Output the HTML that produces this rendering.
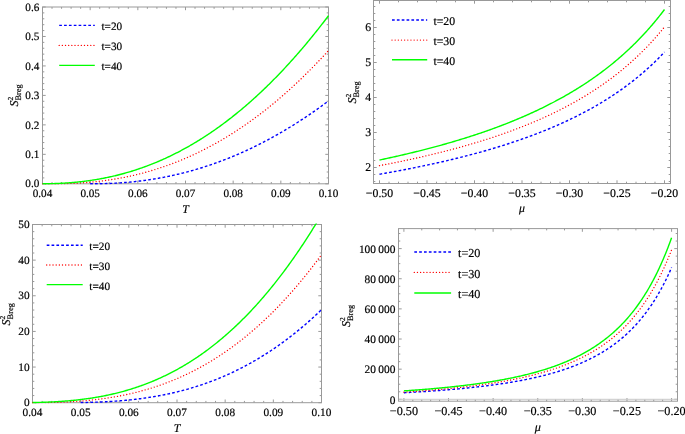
<!DOCTYPE html>
<html><head><meta charset="utf-8"><title>S2 Breg plots</title>
<style>html,body{margin:0;padding:0;background:#fff;width:685px;height:434px;overflow:hidden}svg{display:block;will-change:transform}text{stroke:#000;stroke-width:0.18px}</style>
</head><body>
<svg width="685" height="434" viewBox="0 0 685 434" font-family="'Liberation Serif', serif" fill="#000" text-rendering="geometricPrecision"><defs><clipPath id="c1"><rect x="41.5" y="6" width="288" height="178.8"/></clipPath><clipPath id="c2"><rect x="372.5" y="-0.5" width="299" height="185"/></clipPath><clipPath id="c3"><rect x="31.5" y="223.5" width="291" height="180.2"/></clipPath><clipPath id="c4"><rect x="397.5" y="227.6" width="281" height="174.6"/></clipPath></defs><rect width="685" height="434" fill="#fff"/><path d="M42.5 183.8v-3.2M42.5 7v3.2M52.03 183.8v-1.8M52.03 7v1.8M61.57 183.8v-1.8M61.57 7v1.8M71.1 183.8v-1.8M71.1 7v1.8M80.63 183.8v-1.8M80.63 7v1.8M90.17 183.8v-3.2M90.17 7v3.2M99.7 183.8v-1.8M99.7 7v1.8M109.23 183.8v-1.8M109.23 7v1.8M118.77 183.8v-1.8M118.77 7v1.8M128.3 183.8v-1.8M128.3 7v1.8M137.83 183.8v-3.2M137.83 7v3.2M147.37 183.8v-1.8M147.37 7v1.8M156.9 183.8v-1.8M156.9 7v1.8M166.43 183.8v-1.8M166.43 7v1.8M175.97 183.8v-1.8M175.97 7v1.8M185.5 183.8v-3.2M185.5 7v3.2M195.03 183.8v-1.8M195.03 7v1.8M204.57 183.8v-1.8M204.57 7v1.8M214.1 183.8v-1.8M214.1 7v1.8M223.63 183.8v-1.8M223.63 7v1.8M233.17 183.8v-3.2M233.17 7v3.2M242.7 183.8v-1.8M242.7 7v1.8M252.23 183.8v-1.8M252.23 7v1.8M261.77 183.8v-1.8M261.77 7v1.8M271.3 183.8v-1.8M271.3 7v1.8M280.83 183.8v-3.2M280.83 7v3.2M290.37 183.8v-1.8M290.37 7v1.8M299.9 183.8v-1.8M299.9 7v1.8M309.43 183.8v-1.8M309.43 7v1.8M318.97 183.8v-1.8M318.97 7v1.8M328.5 183.8v-3.2M328.5 7v3.2M42.5 183.8h3.2M328.5 183.8h-3.2M42.5 177.91h1.8M328.5 177.91h-1.8M42.5 172.01h1.8M328.5 172.01h-1.8M42.5 166.12h1.8M328.5 166.12h-1.8M42.5 160.23h1.8M328.5 160.23h-1.8M42.5 154.33h3.2M328.5 154.33h-3.2M42.5 148.44h1.8M328.5 148.44h-1.8M42.5 142.55h1.8M328.5 142.55h-1.8M42.5 136.65h1.8M328.5 136.65h-1.8M42.5 130.76h1.8M328.5 130.76h-1.8M42.5 124.87h3.2M328.5 124.87h-3.2M42.5 118.97h1.8M328.5 118.97h-1.8M42.5 113.08h1.8M328.5 113.08h-1.8M42.5 107.19h1.8M328.5 107.19h-1.8M42.5 101.29h1.8M328.5 101.29h-1.8M42.5 95.4h3.2M328.5 95.4h-3.2M42.5 89.51h1.8M328.5 89.51h-1.8M42.5 83.61h1.8M328.5 83.61h-1.8M42.5 77.72h1.8M328.5 77.72h-1.8M42.5 71.83h1.8M328.5 71.83h-1.8M42.5 65.93h3.2M328.5 65.93h-3.2M42.5 60.04h1.8M328.5 60.04h-1.8M42.5 54.15h1.8M328.5 54.15h-1.8M42.5 48.25h1.8M328.5 48.25h-1.8M42.5 42.36h1.8M328.5 42.36h-1.8M42.5 36.47h3.2M328.5 36.47h-3.2M42.5 30.57h1.8M328.5 30.57h-1.8M42.5 24.68h1.8M328.5 24.68h-1.8M42.5 18.79h1.8M328.5 18.79h-1.8M42.5 12.89h1.8M328.5 12.89h-1.8M42.5 7h3.2M328.5 7h-3.2" stroke="#999999" stroke-width="1" fill="none"/><rect x="42.5" y="7" width="286" height="176.8" fill="none" stroke="#999999" stroke-width="1.0"/><polyline points="90.17,183.80 90.96,183.80 91.76,183.80 92.56,183.80 93.36,183.79 94.15,183.79 94.95,183.79 95.75,183.78 96.54,183.77 97.34,183.76 98.14,183.75 98.93,183.74 99.73,183.73 100.53,183.71 101.33,183.70 102.12,183.68 102.92,183.66 103.72,183.64 104.51,183.62 105.31,183.60 106.11,183.57 106.91,183.55 107.70,183.52 108.50,183.49 109.30,183.46 110.09,183.43 110.89,183.39 111.69,183.36 112.49,183.32 113.28,183.28 114.08,183.24 114.88,183.20 115.67,183.15 116.47,183.11 117.27,183.06 118.07,183.01 118.86,182.96 119.66,182.91 120.46,182.86 121.25,182.80 122.05,182.74 122.85,182.69 123.64,182.63 124.44,182.56 125.24,182.50 126.04,182.43 126.83,182.37 127.63,182.30 128.43,182.23 129.22,182.15 130.02,182.08 130.82,182.00 131.62,181.93 132.41,181.85 133.21,181.77 134.01,181.68 134.80,181.60 135.60,181.51 136.40,181.42 137.20,181.33 137.99,181.24 138.79,181.15 139.59,181.05 140.38,180.95 141.18,180.85 141.98,180.75 142.78,180.65 143.57,180.55 144.37,180.44 145.17,180.33 145.96,180.22 146.76,180.11 147.56,179.99 148.36,179.88 149.15,179.76 149.95,179.64 150.75,179.52 151.54,179.40 152.34,179.27 153.14,179.14 153.93,179.01 154.73,178.88 155.53,178.75 156.33,178.62 157.12,178.48 157.92,178.34 158.72,178.20 159.51,178.06 160.31,177.92 161.11,177.77 161.91,177.62 162.70,177.47 163.50,177.32 164.30,177.17 165.09,177.01 165.89,176.85 166.69,176.69 167.49,176.53 168.28,176.37 169.08,176.20 169.88,176.03 170.67,175.87 171.47,175.69 172.27,175.52 173.07,175.35 173.86,175.17 174.66,174.99 175.46,174.81 176.25,174.63 177.05,174.44 177.85,174.25 178.64,174.06 179.44,173.87 180.24,173.68 181.04,173.49 181.83,173.29 182.63,173.09 183.43,172.89 184.22,172.69 185.02,172.48 185.82,172.27 186.62,172.06 187.41,171.85 188.21,171.64 189.01,171.43 189.80,171.21 190.60,170.99 191.40,170.77 192.20,170.55 192.99,170.32 193.79,170.09 194.59,169.86 195.38,169.63 196.18,169.40 196.98,169.16 197.78,168.93 198.57,168.69 199.37,168.45 200.17,168.20 200.96,167.96 201.76,167.71 202.56,167.46 203.36,167.21 204.15,166.95 204.95,166.70 205.75,166.44 206.54,166.18 207.34,165.92 208.14,165.65 208.93,165.39 209.73,165.12 210.53,164.85 211.33,164.58 212.12,164.30 212.92,164.03 213.72,163.75 214.51,163.47 215.31,163.18 216.11,162.90 216.91,162.61 217.70,162.32 218.50,162.03 219.30,161.74 220.09,161.44 220.89,161.15 221.69,160.85 222.49,160.54 223.28,160.24 224.08,159.93 224.88,159.63 225.67,159.32 226.47,159.00 227.27,158.69 228.07,158.37 228.86,158.05 229.66,157.73 230.46,157.41 231.25,157.08 232.05,156.76 232.85,156.43 233.64,156.10 234.44,155.76 235.24,155.43 236.04,155.09 236.83,154.75 237.63,154.41 238.43,154.06 239.22,153.72 240.02,153.37 240.82,153.02 241.62,152.66 242.41,152.31 243.21,151.95 244.01,151.59 244.80,151.23 245.60,150.87 246.40,150.50 247.20,150.13 247.99,149.76 248.79,149.39 249.59,149.02 250.38,148.64 251.18,148.26 251.98,147.88 252.78,147.50 253.57,147.11 254.37,146.72 255.17,146.33 255.96,145.94 256.76,145.55 257.56,145.15 258.36,144.75 259.15,144.35 259.95,143.95 260.75,143.54 261.54,143.14 262.34,142.73 263.14,142.31 263.93,141.90 264.73,141.48 265.53,141.07 266.33,140.65 267.12,140.22 267.92,139.80 268.72,139.37 269.51,138.94 270.31,138.51 271.11,138.08 271.91,137.64 272.70,137.20 273.50,136.76 274.30,136.32 275.09,135.87 275.89,135.43 276.69,134.98 277.49,134.53 278.28,134.07 279.08,133.62 279.88,133.16 280.67,132.70 281.47,132.24 282.27,131.77 283.07,131.30 283.86,130.83 284.66,130.36 285.46,129.89 286.25,129.41 287.05,128.93 287.85,128.45 288.64,127.97 289.44,127.49 290.24,127.00 291.04,126.51 291.83,126.02 292.63,125.52 293.43,125.03 294.22,124.53 295.02,124.03 295.82,123.52 296.62,123.02 297.41,122.51 298.21,122.00 299.01,121.49 299.80,120.98 300.60,120.46 301.40,119.94 302.20,119.42 302.99,118.90 303.79,118.37 304.59,117.84 305.38,117.31 306.18,116.78 306.98,116.24 307.78,115.71 308.57,115.17 309.37,114.63 310.17,114.08 310.96,113.54 311.76,112.99 312.56,112.44 313.36,111.88 314.15,111.33 314.95,110.77 315.75,110.21 316.54,109.65 317.34,109.08 318.14,108.52 318.93,107.95 319.73,107.38 320.53,106.80 321.33,106.23 322.12,105.65 322.92,105.07 323.72,104.49 324.51,103.90 325.31,103.31 326.11,102.72 326.91,102.13 327.70,101.54 328.50,100.94" fill="none" stroke="#0000ff" stroke-width="1.4" stroke-dasharray="2.7 2.15" clip-path="url(#c1)"/><polyline points="42.50,183.80 43.46,183.80 44.41,183.80 45.37,183.80 46.33,183.80 47.28,183.80 48.24,183.80 49.20,183.80 50.15,183.80 51.11,183.80 52.07,183.79 53.02,183.79 53.98,183.79 54.93,183.78 55.89,183.77 56.85,183.76 57.80,183.75 58.76,183.74 59.72,183.72 60.67,183.71 61.63,183.69 62.59,183.67 63.54,183.65 64.50,183.63 65.46,183.60 66.41,183.57 67.37,183.54 68.33,183.51 69.28,183.48 70.24,183.44 71.20,183.41 72.15,183.37 73.11,183.32 74.07,183.28 75.02,183.23 75.98,183.18 76.93,183.13 77.89,183.08 78.85,183.02 79.80,182.97 80.76,182.91 81.72,182.84 82.67,182.78 83.63,182.71 84.59,182.64 85.54,182.57 86.50,182.49 87.46,182.42 88.41,182.34 89.37,182.25 90.33,182.17 91.28,182.08 92.24,181.99 93.20,181.90 94.15,181.80 95.11,181.70 96.07,181.60 97.02,181.50 97.98,181.39 98.93,181.28 99.89,181.17 100.85,181.05 101.80,180.94 102.76,180.81 103.72,180.69 104.67,180.56 105.63,180.44 106.59,180.30 107.54,180.17 108.50,180.03 109.46,179.89 110.41,179.75 111.37,179.60 112.33,179.45 113.28,179.30 114.24,179.14 115.20,178.98 116.15,178.82 117.11,178.66 118.07,178.49 119.02,178.32 119.98,178.15 120.93,177.97 121.89,177.79 122.85,177.61 123.80,177.42 124.76,177.23 125.72,177.04 126.67,176.84 127.63,176.64 128.59,176.44 129.54,176.24 130.50,176.03 131.46,175.82 132.41,175.60 133.37,175.38 134.33,175.16 135.28,174.94 136.24,174.71 137.20,174.48 138.15,174.24 139.11,174.01 140.07,173.77 141.02,173.52 141.98,173.27 142.93,173.02 143.89,172.77 144.85,172.51 145.80,172.25 146.76,171.98 147.72,171.72 148.67,171.45 149.63,171.17 150.59,170.89 151.54,170.61 152.50,170.33 153.46,170.04 154.41,169.74 155.37,169.45 156.33,169.15 157.28,168.85 158.24,168.54 159.20,168.23 160.15,167.92 161.11,167.60 162.07,167.28 163.02,166.96 163.98,166.63 164.93,166.30 165.89,165.96 166.85,165.63 167.80,165.28 168.76,164.94 169.72,164.59 170.67,164.24 171.63,163.88 172.59,163.52 173.54,163.16 174.50,162.79 175.46,162.42 176.41,162.04 177.37,161.67 178.33,161.28 179.28,160.90 180.24,160.51 181.20,160.12 182.15,159.72 183.11,159.32 184.07,158.91 185.02,158.51 185.98,158.09 186.93,157.68 187.89,157.26 188.85,156.83 189.80,156.41 190.76,155.98 191.72,155.54 192.67,155.10 193.63,154.66 194.59,154.21 195.54,153.76 196.50,153.31 197.46,152.85 198.41,152.39 199.37,151.92 200.33,151.45 201.28,150.98 202.24,150.50 203.20,150.02 204.15,149.54 205.11,149.05 206.07,148.56 207.02,148.06 207.98,147.56 208.93,147.05 209.89,146.54 210.85,146.03 211.80,145.51 212.76,144.99 213.72,144.47 214.67,143.94 215.63,143.41 216.59,142.87 217.54,142.33 218.50,141.78 219.46,141.23 220.41,140.68 221.37,140.12 222.33,139.56 223.28,139.00 224.24,138.43 225.20,137.85 226.15,137.28 227.11,136.70 228.07,136.11 229.02,135.52 229.98,134.93 230.93,134.33 231.89,133.73 232.85,133.12 233.80,132.51 234.76,131.89 235.72,131.28 236.67,130.65 237.63,130.03 238.59,129.39 239.54,128.76 240.50,128.12 241.46,127.48 242.41,126.83 243.37,126.18 244.33,125.52 245.28,124.86 246.24,124.19 247.20,123.52 248.15,122.85 249.11,122.17 250.07,121.49 251.02,120.80 251.98,120.11 252.93,119.42 253.89,118.72 254.85,118.02 255.80,117.31 256.76,116.60 257.72,115.88 258.67,115.16 259.63,114.44 260.59,113.71 261.54,112.97 262.50,112.24 263.46,111.49 264.41,110.75 265.37,110.00 266.33,109.24 267.28,108.48 268.24,107.72 269.20,106.95 270.15,106.18 271.11,105.40 272.07,104.62 273.02,103.83 273.98,103.04 274.93,102.25 275.89,101.45 276.85,100.64 277.80,99.84 278.76,99.02 279.72,98.21 280.67,97.39 281.63,96.56 282.59,95.73 283.54,94.90 284.50,94.06 285.46,93.21 286.41,92.37 287.37,91.51 288.33,90.66 289.28,89.79 290.24,88.93 291.20,88.06 292.15,87.18 293.11,86.30 294.07,85.42 295.02,84.53 295.98,83.64 296.93,82.74 297.89,81.84 298.85,80.93 299.80,80.02 300.76,79.10 301.72,78.18 302.67,77.26 303.63,76.33 304.59,75.39 305.54,74.45 306.50,73.51 307.46,72.56 308.41,71.61 309.37,70.65 310.33,69.69 311.28,68.72 312.24,67.75 313.20,66.78 314.15,65.80 315.11,64.81 316.07,63.82 317.02,62.83 317.98,61.83 318.93,60.82 319.89,59.82 320.85,58.80 321.80,57.78 322.76,56.76 323.72,55.74 324.67,54.70 325.63,53.67 326.59,52.63 327.54,51.58 328.50,50.53" fill="none" stroke="#ff0000" stroke-width="1.35" stroke-linecap="round" stroke-dasharray="0.01 3.15" clip-path="url(#c1)"/><polyline points="42.50,183.79 43.46,183.78 44.41,183.77 45.37,183.76 46.33,183.75 47.28,183.73 48.24,183.72 49.20,183.70 50.15,183.68 51.11,183.66 52.07,183.63 53.02,183.61 53.98,183.58 54.93,183.54 55.89,183.51 56.85,183.47 57.80,183.44 58.76,183.39 59.72,183.35 60.67,183.30 61.63,183.26 62.59,183.20 63.54,183.15 64.50,183.09 65.46,183.03 66.41,182.97 67.37,182.91 68.33,182.84 69.28,182.77 70.24,182.70 71.20,182.62 72.15,182.54 73.11,182.46 74.07,182.37 75.02,182.29 75.98,182.20 76.93,182.10 77.89,182.01 78.85,181.91 79.80,181.80 80.76,181.70 81.72,181.59 82.67,181.48 83.63,181.36 84.59,181.24 85.54,181.12 86.50,181.00 87.46,180.87 88.41,180.74 89.37,180.60 90.33,180.47 91.28,180.33 92.24,180.18 93.20,180.03 94.15,179.88 95.11,179.73 96.07,179.57 97.02,179.41 97.98,179.25 98.93,179.08 99.89,178.91 100.85,178.73 101.80,178.56 102.76,178.38 103.72,178.19 104.67,178.00 105.63,177.81 106.59,177.61 107.54,177.42 108.50,177.21 109.46,177.01 110.41,176.80 111.37,176.58 112.33,176.37 113.28,176.15 114.24,175.92 115.20,175.70 116.15,175.46 117.11,175.23 118.07,174.99 119.02,174.75 119.98,174.50 120.93,174.25 121.89,174.00 122.85,173.74 123.80,173.48 124.76,173.22 125.72,172.95 126.67,172.67 127.63,172.40 128.59,172.12 129.54,171.83 130.50,171.55 131.46,171.25 132.41,170.96 133.37,170.66 134.33,170.36 135.28,170.05 136.24,169.74 137.20,169.42 138.15,169.10 139.11,168.78 140.07,168.45 141.02,168.12 141.98,167.79 142.93,167.45 143.89,167.11 144.85,166.76 145.80,166.41 146.76,166.05 147.72,165.69 148.67,165.33 149.63,164.96 150.59,164.59 151.54,164.22 152.50,163.84 153.46,163.46 154.41,163.07 155.37,162.68 156.33,162.28 157.28,161.88 158.24,161.48 159.20,161.07 160.15,160.65 161.11,160.24 162.07,159.82 163.02,159.39 163.98,158.96 164.93,158.53 165.89,158.09 166.85,157.65 167.80,157.20 168.76,156.75 169.72,156.30 170.67,155.84 171.63,155.38 172.59,154.91 173.54,154.44 174.50,153.96 175.46,153.48 176.41,152.99 177.37,152.51 178.33,152.01 179.28,151.51 180.24,151.01 181.20,150.50 182.15,149.99 183.11,149.48 184.07,148.96 185.02,148.43 185.98,147.91 186.93,147.37 187.89,146.83 188.85,146.29 189.80,145.75 190.76,145.20 191.72,144.64 192.67,144.08 193.63,143.52 194.59,142.95 195.54,142.37 196.50,141.80 197.46,141.21 198.41,140.63 199.37,140.04 200.33,139.44 201.28,138.84 202.24,138.23 203.20,137.62 204.15,137.01 205.11,136.39 206.07,135.77 207.02,135.14 207.98,134.51 208.93,133.87 209.89,133.23 210.85,132.58 211.80,131.93 212.76,131.28 213.72,130.62 214.67,129.95 215.63,129.28 216.59,128.61 217.54,127.93 218.50,127.24 219.46,126.56 220.41,125.86 221.37,125.17 222.33,124.46 223.28,123.76 224.24,123.04 225.20,122.33 226.15,121.61 227.11,120.88 228.07,120.15 229.02,119.41 229.98,118.67 230.93,117.93 231.89,117.18 232.85,116.42 233.80,115.67 234.76,114.90 235.72,114.13 236.67,113.36 237.63,112.58 238.59,111.80 239.54,111.01 240.50,110.21 241.46,109.42 242.41,108.61 243.37,107.81 244.33,106.99 245.28,106.18 246.24,105.35 247.20,104.53 248.15,103.69 249.11,102.86 250.07,102.02 251.02,101.17 251.98,100.32 252.93,99.46 253.89,98.60 254.85,97.73 255.80,96.86 256.76,95.98 257.72,95.10 258.67,94.22 259.63,93.32 260.59,92.43 261.54,91.53 262.50,90.62 263.46,89.71 264.41,88.79 265.37,87.87 266.33,86.95 267.28,86.01 268.24,85.08 269.20,84.14 270.15,83.19 271.11,82.24 272.07,81.28 273.02,80.32 273.98,79.35 274.93,78.38 275.89,77.41 276.85,76.42 277.80,75.44 278.76,74.44 279.72,73.45 280.67,72.45 281.63,71.44 282.59,70.43 283.54,69.41 284.50,68.39 285.46,67.36 286.41,66.32 287.37,65.29 288.33,64.24 289.28,63.19 290.24,62.14 291.20,61.08 292.15,60.02 293.11,58.95 294.07,57.88 295.02,56.80 295.98,55.71 296.93,54.62 297.89,53.53 298.85,52.43 299.80,51.32 300.76,50.21 301.72,49.09 302.67,47.97 303.63,46.85 304.59,45.71 305.54,44.58 306.50,43.44 307.46,42.29 308.41,41.14 309.37,39.98 310.33,38.81 311.28,37.65 312.24,36.47 313.20,35.29 314.15,34.11 315.11,32.92 316.07,31.72 317.02,30.52 317.98,29.32 318.93,28.11 319.89,26.89 320.85,25.67 321.80,24.44 322.76,23.21 323.72,21.97 324.67,20.73 325.63,19.48 326.59,18.23 327.54,16.97 328.50,15.70" fill="none" stroke="#00ff00" stroke-width="1.4" clip-path="url(#c1)"/><text x="42.5" y="196.8" font-size="11.2" text-anchor="middle">0.04</text><text x="90.17" y="196.8" font-size="11.2" text-anchor="middle">0.05</text><text x="137.83" y="196.8" font-size="11.2" text-anchor="middle">0.06</text><text x="185.5" y="196.8" font-size="11.2" text-anchor="middle">0.07</text><text x="233.17" y="196.8" font-size="11.2" text-anchor="middle">0.08</text><text x="280.83" y="196.8" font-size="11.2" text-anchor="middle">0.09</text><text x="328.5" y="196.8" font-size="11.2" text-anchor="middle">0.10</text><text x="39.3" y="187.47" font-size="11.2" text-anchor="end">0.0</text><text x="39.3" y="158" font-size="11.2" text-anchor="end">0.1</text><text x="39.3" y="128.53" font-size="11.2" text-anchor="end">0.2</text><text x="39.3" y="99.07" font-size="11.2" text-anchor="end">0.3</text><text x="39.3" y="69.6" font-size="11.2" text-anchor="end">0.4</text><text x="39.3" y="40.13" font-size="11.2" text-anchor="end">0.5</text><text x="39.3" y="10.67" font-size="11.2" text-anchor="end">0.6</text><text x="185.6" y="212.6" font-size="11.8" text-anchor="middle" font-style="italic">T</text><g transform="translate(17.6,106.5) rotate(-90)"><text x="0" y="0" font-size="12"><tspan font-style="italic">S</tspan><tspan font-size="7.6" dy="-5">2</tspan><tspan font-size="8.4" dx="-3.8" dy="8.2">Breg</tspan></text></g><line x1="59.2" y1="25.4" x2="94.8" y2="25.4" stroke="#0000ff" stroke-width="1.4" stroke-dasharray="2.7 2.15"/><text x="101.5" y="30.27" font-size="11.2" text-anchor="start">t=20</text><line x1="59.2" y1="45.4" x2="94.8" y2="45.4" stroke="#ff0000" stroke-width="1.35" stroke-linecap="round" stroke-dasharray="0.01 3.15"/><text x="101.5" y="50.27" font-size="11.2" text-anchor="start">t=30</text><line x1="59.2" y1="65.4" x2="94.8" y2="65.4" stroke="#00ff00" stroke-width="1.4"/><text x="101.5" y="70.27" font-size="11.2" text-anchor="start">t=40</text><path d="M379.5 183.5v-3.2M389 183.5v-1.8M398.5 183.5v-1.8M408 183.5v-1.8M417.5 183.5v-1.8M427 183.5v-3.2M436.5 183.5v-1.8M446 183.5v-1.8M455.5 183.5v-1.8M465 183.5v-1.8M474.5 183.5v-3.2M484 183.5v-1.8M493.5 183.5v-1.8M503 183.5v-1.8M512.5 183.5v-1.8M522 183.5v-3.2M531.5 183.5v-1.8M541 183.5v-1.8M550.5 183.5v-1.8M560 183.5v-1.8M569.5 183.5v-3.2M579 183.5v-1.8M588.5 183.5v-1.8M598 183.5v-1.8M607.5 183.5v-1.8M617 183.5v-3.2M626.5 183.5v-1.8M636 183.5v-1.8M645.5 183.5v-1.8M655 183.5v-1.8M664.5 183.5v-3.2M379.5 0.5v3.2M398.5 0.5v1.8M417.5 0.5v1.8M436.5 0.5v1.8M455.5 0.5v1.8M474.5 0.5v3.2M493.5 0.5v1.8M512.5 0.5v1.8M531.5 0.5v1.8M550.5 0.5v1.8M569.5 0.5v3.2M588.5 0.5v1.8M607.5 0.5v1.8M626.5 0.5v1.8M645.5 0.5v1.8M664.5 0.5v3.2M373.5 181.5h1.8M670.5 181.5h-1.8M373.5 174.5h1.8M670.5 174.5h-1.8M373.5 167.5h3.2M670.5 167.5h-3.2M373.5 160.5h1.8M670.5 160.5h-1.8M373.5 153.5h1.8M670.5 153.5h-1.8M373.5 146.5h1.8M670.5 146.5h-1.8M373.5 139.5h1.8M670.5 139.5h-1.8M373.5 132.5h3.2M670.5 132.5h-3.2M373.5 125.5h1.8M670.5 125.5h-1.8M373.5 118.5h1.8M670.5 118.5h-1.8M373.5 111.5h1.8M670.5 111.5h-1.8M373.5 104.5h1.8M670.5 104.5h-1.8M373.5 97.5h3.2M670.5 97.5h-3.2M373.5 90.5h1.8M670.5 90.5h-1.8M373.5 83.5h1.8M670.5 83.5h-1.8M373.5 76.5h1.8M670.5 76.5h-1.8M373.5 69.5h1.8M670.5 69.5h-1.8M373.5 62.5h3.2M670.5 62.5h-3.2M373.5 55.5h1.8M670.5 55.5h-1.8M373.5 48.5h1.8M670.5 48.5h-1.8M373.5 41.5h1.8M670.5 41.5h-1.8M373.5 34.5h1.8M670.5 34.5h-1.8M373.5 27.5h3.2M670.5 27.5h-3.2M373.5 20.5h1.8M670.5 20.5h-1.8M373.5 13.5h1.8M670.5 13.5h-1.8M373.5 6.5h1.8M670.5 6.5h-1.8" stroke="#999999" stroke-width="1" fill="none"/><rect x="373.5" y="0.5" width="297" height="183" fill="none" stroke="#999999" stroke-width="1.0"/><polyline points="379.50,174.23 380.45,174.07 381.41,173.90 382.36,173.73 383.31,173.57 384.27,173.40 385.22,173.23 386.17,173.06 387.13,172.89 388.08,172.72 389.03,172.55 389.98,172.38 390.94,172.20 391.89,172.03 392.84,171.86 393.80,171.68 394.75,171.51 395.70,171.33 396.66,171.15 397.61,170.97 398.56,170.80 399.52,170.62 400.47,170.44 401.42,170.26 402.38,170.07 403.33,169.89 404.28,169.71 405.24,169.52 406.19,169.34 407.14,169.15 408.10,168.97 409.05,168.78 410.00,168.59 410.95,168.41 411.91,168.22 412.86,168.03 413.81,167.83 414.77,167.64 415.72,167.45 416.67,167.26 417.63,167.06 418.58,166.87 419.53,166.67 420.49,166.47 421.44,166.28 422.39,166.08 423.35,165.88 424.30,165.68 425.25,165.48 426.21,165.28 427.16,165.07 428.11,164.87 429.07,164.66 430.02,164.46 430.97,164.25 431.92,164.04 432.88,163.83 433.83,163.63 434.78,163.42 435.74,163.20 436.69,162.99 437.64,162.78 438.60,162.56 439.55,162.35 440.50,162.13 441.46,161.92 442.41,161.70 443.36,161.48 444.32,161.26 445.27,161.04 446.22,160.81 447.18,160.59 448.13,160.37 449.08,160.14 450.04,159.92 450.99,159.69 451.94,159.46 452.89,159.23 453.85,159.00 454.80,158.77 455.75,158.54 456.71,158.30 457.66,158.07 458.61,157.83 459.57,157.59 460.52,157.35 461.47,157.11 462.43,156.87 463.38,156.63 464.33,156.39 465.29,156.14 466.24,155.90 467.19,155.65 468.15,155.40 469.10,155.16 470.05,154.91 471.01,154.65 471.96,154.40 472.91,154.15 473.86,153.89 474.82,153.64 475.77,153.38 476.72,153.12 477.68,152.86 478.63,152.60 479.58,152.33 480.54,152.07 481.49,151.80 482.44,151.54 483.40,151.27 484.35,151.00 485.30,150.73 486.26,150.45 487.21,150.18 488.16,149.91 489.12,149.63 490.07,149.35 491.02,149.07 491.97,148.79 492.93,148.51 493.88,148.22 494.83,147.94 495.79,147.65 496.74,147.36 497.69,147.07 498.65,146.78 499.60,146.49 500.55,146.19 501.51,145.90 502.46,145.60 503.41,145.30 504.37,145.00 505.32,144.69 506.27,144.39 507.23,144.08 508.18,143.78 509.13,143.47 510.09,143.16 511.04,142.84 511.99,142.53 512.94,142.21 513.90,141.89 514.85,141.57 515.80,141.25 516.76,140.93 517.71,140.60 518.66,140.28 519.62,139.95 520.57,139.62 521.52,139.28 522.48,138.95 523.43,138.61 524.38,138.28 525.34,137.93 526.29,137.59 527.24,137.25 528.20,136.90 529.15,136.55 530.10,136.20 531.06,135.85 532.01,135.50 532.96,135.14 533.91,134.78 534.87,134.42 535.82,134.06 536.77,133.69 537.73,133.33 538.68,132.96 539.63,132.59 540.59,132.21 541.54,131.84 542.49,131.46 543.45,131.08 544.40,130.69 545.35,130.31 546.31,129.92 547.26,129.53 548.21,129.14 549.17,128.74 550.12,128.35 551.07,127.95 552.03,127.54 552.98,127.14 553.93,126.73 554.88,126.32 555.84,125.91 556.79,125.49 557.74,125.08 558.70,124.66 559.65,124.23 560.60,123.81 561.56,123.38 562.51,122.95 563.46,122.51 564.42,122.08 565.37,121.64 566.32,121.19 567.28,120.75 568.23,120.30 569.18,119.85 570.14,119.39 571.09,118.94 572.04,118.48 572.99,118.01 573.95,117.55 574.90,117.08 575.85,116.60 576.81,116.13 577.76,115.65 578.71,115.16 579.67,114.68 580.62,114.19 581.57,113.69 582.53,113.20 583.48,112.70 584.43,112.19 585.39,111.69 586.34,111.18 587.29,110.66 588.25,110.15 589.20,109.62 590.15,109.10 591.11,108.57 592.06,108.04 593.01,107.50 593.96,106.96 594.92,106.42 595.87,105.87 596.82,105.32 597.78,104.76 598.73,104.20 599.68,103.63 600.64,103.06 601.59,102.49 602.54,101.91 603.50,101.33 604.45,100.75 605.40,100.16 606.36,99.56 607.31,98.96 608.26,98.36 609.22,97.75 610.17,97.13 611.12,96.52 612.08,95.89 613.03,95.26 613.98,94.63 614.93,93.99 615.89,93.35 616.84,92.70 617.79,92.05 618.75,91.39 619.70,90.73 620.65,90.06 621.61,89.38 622.56,88.70 623.51,88.02 624.47,87.32 625.42,86.63 626.37,85.92 627.33,85.22 628.28,84.50 629.23,83.78 630.19,83.05 631.14,82.32 632.09,81.58 633.05,80.84 634.00,80.09 634.95,79.33 635.90,78.56 636.86,77.79 637.81,77.01 638.76,76.23 639.72,75.44 640.67,74.64 641.62,73.83 642.58,73.02 643.53,72.20 644.48,71.37 645.44,70.53 646.39,69.69 647.34,68.84 648.30,67.98 649.25,67.12 650.20,66.24 651.16,65.36 652.11,64.47 653.06,63.57 654.02,62.66 654.97,61.75 655.92,60.82 656.87,59.89 657.83,58.95 658.78,58.00 659.73,57.04 660.69,56.07 661.64,55.09 662.59,54.10 663.55,53.10 664.50,52.09" fill="none" stroke="#0000ff" stroke-width="1.4" stroke-dasharray="2.7 2.15" clip-path="url(#c2)"/><polyline points="379.50,165.63 380.45,165.45 381.41,165.27 382.36,165.08 383.31,164.90 384.27,164.72 385.22,164.54 386.17,164.35 387.13,164.17 388.08,163.98 389.03,163.79 389.98,163.60 390.94,163.42 391.89,163.23 392.84,163.04 393.80,162.85 394.75,162.65 395.70,162.46 396.66,162.27 397.61,162.07 398.56,161.88 399.52,161.68 400.47,161.49 401.42,161.29 402.38,161.09 403.33,160.89 404.28,160.69 405.24,160.49 406.19,160.29 407.14,160.08 408.10,159.88 409.05,159.68 410.00,159.47 410.95,159.26 411.91,159.06 412.86,158.85 413.81,158.64 414.77,158.43 415.72,158.22 416.67,158.01 417.63,157.79 418.58,157.58 419.53,157.36 420.49,157.15 421.44,156.93 422.39,156.71 423.35,156.50 424.30,156.28 425.25,156.05 426.21,155.83 427.16,155.61 428.11,155.39 429.07,155.16 430.02,154.94 430.97,154.71 431.92,154.48 432.88,154.25 433.83,154.02 434.78,153.79 435.74,153.56 436.69,153.32 437.64,153.09 438.60,152.85 439.55,152.62 440.50,152.38 441.46,152.14 442.41,151.90 443.36,151.66 444.32,151.42 445.27,151.17 446.22,150.93 447.18,150.68 448.13,150.43 449.08,150.19 450.04,149.94 450.99,149.69 451.94,149.43 452.89,149.18 453.85,148.93 454.80,148.67 455.75,148.41 456.71,148.15 457.66,147.89 458.61,147.63 459.57,147.37 460.52,147.11 461.47,146.84 462.43,146.58 463.38,146.31 464.33,146.04 465.29,145.77 466.24,145.50 467.19,145.23 468.15,144.95 469.10,144.68 470.05,144.40 471.01,144.12 471.96,143.84 472.91,143.56 473.86,143.28 474.82,142.99 475.77,142.71 476.72,142.42 477.68,142.13 478.63,141.84 479.58,141.55 480.54,141.26 481.49,140.96 482.44,140.66 483.40,140.37 484.35,140.07 485.30,139.76 486.26,139.46 487.21,139.16 488.16,138.85 489.12,138.54 490.07,138.23 491.02,137.92 491.97,137.61 492.93,137.30 493.88,136.98 494.83,136.66 495.79,136.34 496.74,136.02 497.69,135.70 498.65,135.37 499.60,135.05 500.55,134.72 501.51,134.39 502.46,134.06 503.41,133.72 504.37,133.39 505.32,133.05 506.27,132.71 507.23,132.37 508.18,132.02 509.13,131.68 510.09,131.33 511.04,130.98 511.99,130.63 512.94,130.28 513.90,129.92 514.85,129.56 515.80,129.20 516.76,128.84 517.71,128.48 518.66,128.11 519.62,127.74 520.57,127.37 521.52,127.00 522.48,126.62 523.43,126.25 524.38,125.87 525.34,125.49 526.29,125.10 527.24,124.72 528.20,124.33 529.15,123.94 530.10,123.54 531.06,123.15 532.01,122.75 532.96,122.35 533.91,121.95 534.87,121.54 535.82,121.14 536.77,120.72 537.73,120.31 538.68,119.90 539.63,119.48 540.59,119.06 541.54,118.63 542.49,118.21 543.45,117.78 544.40,117.35 545.35,116.91 546.31,116.48 547.26,116.04 548.21,115.60 549.17,115.15 550.12,114.70 551.07,114.25 552.03,113.80 552.98,113.34 553.93,112.88 554.88,112.42 555.84,111.95 556.79,111.48 557.74,111.01 558.70,110.53 559.65,110.06 560.60,109.57 561.56,109.09 562.51,108.60 563.46,108.11 564.42,107.61 565.37,107.12 566.32,106.61 567.28,106.11 568.23,105.60 569.18,105.09 570.14,104.57 571.09,104.05 572.04,103.53 572.99,103.01 573.95,102.48 574.90,101.94 575.85,101.40 576.81,100.86 577.76,100.32 578.71,99.77 579.67,99.22 580.62,98.66 581.57,98.10 582.53,97.53 583.48,96.96 584.43,96.39 585.39,95.81 586.34,95.23 587.29,94.64 588.25,94.05 589.20,93.46 590.15,92.86 591.11,92.26 592.06,91.65 593.01,91.04 593.96,90.42 594.92,89.80 595.87,89.17 596.82,88.54 597.78,87.90 598.73,87.26 599.68,86.61 600.64,85.96 601.59,85.31 602.54,84.65 603.50,83.98 604.45,83.31 605.40,82.63 606.36,81.95 607.31,81.26 608.26,80.57 609.22,79.87 610.17,79.16 611.12,78.45 612.08,77.74 613.03,77.02 613.98,76.29 614.93,75.55 615.89,74.81 616.84,74.07 617.79,73.32 618.75,72.56 619.70,71.79 620.65,71.02 621.61,70.24 622.56,69.46 623.51,68.67 624.47,67.87 625.42,67.07 626.37,66.26 627.33,65.44 628.28,64.61 629.23,63.78 630.19,62.94 631.14,62.09 632.09,61.24 633.05,60.37 634.00,59.50 634.95,58.63 635.90,57.74 636.86,56.85 637.81,55.95 638.76,55.03 639.72,54.12 640.67,53.19 641.62,52.25 642.58,51.31 643.53,50.36 644.48,49.39 645.44,48.42 646.39,47.44 647.34,46.45 648.30,45.46 649.25,44.45 650.20,43.43 651.16,42.40 652.11,41.36 653.06,40.32 654.02,39.26 654.97,38.19 655.92,37.11 656.87,36.02 657.83,34.92 658.78,33.81 659.73,32.68 660.69,31.55 661.64,30.40 662.59,29.24 663.55,28.07 664.50,26.89" fill="none" stroke="#ff0000" stroke-width="1.35" stroke-linecap="round" stroke-dasharray="0.01 3.15" clip-path="url(#c2)"/><polyline points="379.50,160.01 380.45,159.81 381.41,159.61 382.36,159.41 383.31,159.20 384.27,159.00 385.22,158.80 386.17,158.59 387.13,158.39 388.08,158.18 389.03,157.97 389.98,157.76 390.94,157.55 391.89,157.34 392.84,157.13 393.80,156.92 394.75,156.71 395.70,156.49 396.66,156.28 397.61,156.06 398.56,155.84 399.52,155.63 400.47,155.41 401.42,155.19 402.38,154.97 403.33,154.75 404.28,154.52 405.24,154.30 406.19,154.08 407.14,153.85 408.10,153.63 409.05,153.40 410.00,153.17 410.95,152.94 411.91,152.71 412.86,152.48 413.81,152.25 414.77,152.02 415.72,151.78 416.67,151.55 417.63,151.31 418.58,151.07 419.53,150.84 420.49,150.60 421.44,150.36 422.39,150.11 423.35,149.87 424.30,149.63 425.25,149.38 426.21,149.14 427.16,148.89 428.11,148.64 429.07,148.39 430.02,148.14 430.97,147.89 431.92,147.64 432.88,147.39 433.83,147.13 434.78,146.88 435.74,146.62 436.69,146.36 437.64,146.10 438.60,145.84 439.55,145.58 440.50,145.32 441.46,145.05 442.41,144.79 443.36,144.52 444.32,144.25 445.27,143.98 446.22,143.71 447.18,143.44 448.13,143.17 449.08,142.89 450.04,142.62 450.99,142.34 451.94,142.06 452.89,141.78 453.85,141.50 454.80,141.22 455.75,140.93 456.71,140.65 457.66,140.36 458.61,140.08 459.57,139.79 460.52,139.50 461.47,139.20 462.43,138.91 463.38,138.61 464.33,138.32 465.29,138.02 466.24,137.72 467.19,137.42 468.15,137.12 469.10,136.81 470.05,136.51 471.01,136.20 471.96,135.89 472.91,135.58 473.86,135.27 474.82,134.96 475.77,134.64 476.72,134.33 477.68,134.01 478.63,133.69 479.58,133.37 480.54,133.05 481.49,132.72 482.44,132.40 483.40,132.07 484.35,131.74 485.30,131.41 486.26,131.08 487.21,130.74 488.16,130.40 489.12,130.07 490.07,129.73 491.02,129.38 491.97,129.04 492.93,128.70 493.88,128.35 494.83,128.00 495.79,127.65 496.74,127.30 497.69,126.94 498.65,126.58 499.60,126.23 500.55,125.87 501.51,125.50 502.46,125.14 503.41,124.77 504.37,124.40 505.32,124.03 506.27,123.66 507.23,123.29 508.18,122.91 509.13,122.53 510.09,122.15 511.04,121.77 511.99,121.38 512.94,120.99 513.90,120.60 514.85,120.21 515.80,119.82 516.76,119.42 517.71,119.02 518.66,118.62 519.62,118.22 520.57,117.82 521.52,117.41 522.48,117.00 523.43,116.59 524.38,116.17 525.34,115.75 526.29,115.33 527.24,114.91 528.20,114.49 529.15,114.06 530.10,113.63 531.06,113.20 532.01,112.76 532.96,112.33 533.91,111.89 534.87,111.44 535.82,111.00 536.77,110.55 537.73,110.10 538.68,109.65 539.63,109.19 540.59,108.73 541.54,108.27 542.49,107.81 543.45,107.34 544.40,106.87 545.35,106.40 546.31,105.92 547.26,105.44 548.21,104.96 549.17,104.47 550.12,103.98 551.07,103.49 552.03,103.00 552.98,102.50 553.93,102.00 554.88,101.50 555.84,100.99 556.79,100.48 557.74,99.96 558.70,99.45 559.65,98.93 560.60,98.40 561.56,97.88 562.51,97.34 563.46,96.81 564.42,96.27 565.37,95.73 566.32,95.19 567.28,94.64 568.23,94.09 569.18,93.53 570.14,92.97 571.09,92.41 572.04,91.84 572.99,91.27 573.95,90.69 574.90,90.11 575.85,89.53 576.81,88.94 577.76,88.35 578.71,87.76 579.67,87.16 580.62,86.55 581.57,85.95 582.53,85.33 583.48,84.72 584.43,84.10 585.39,83.47 586.34,82.84 587.29,82.21 588.25,81.57 589.20,80.92 590.15,80.27 591.11,79.62 592.06,78.96 593.01,78.30 593.96,77.63 594.92,76.96 595.87,76.28 596.82,75.60 597.78,74.91 598.73,74.22 599.68,73.52 600.64,72.82 601.59,72.11 602.54,71.40 603.50,70.68 604.45,69.95 605.40,69.22 606.36,68.49 607.31,67.75 608.26,67.00 609.22,66.24 610.17,65.49 611.12,64.72 612.08,63.95 613.03,63.17 613.98,62.39 614.93,61.60 615.89,60.80 616.84,60.00 617.79,59.19 618.75,58.37 619.70,57.55 620.65,56.72 621.61,55.88 622.56,55.04 623.51,54.19 624.47,53.33 625.42,52.47 626.37,51.60 627.33,50.72 628.28,49.83 629.23,48.94 630.19,48.04 631.14,47.13 632.09,46.21 633.05,45.29 634.00,44.35 634.95,43.41 635.90,42.46 636.86,41.50 637.81,40.54 638.76,39.56 639.72,38.58 640.67,37.59 641.62,36.58 642.58,35.57 643.53,34.55 644.48,33.52 645.44,32.49 646.39,31.44 647.34,30.38 648.30,29.31 649.25,28.23 650.20,27.15 651.16,26.05 652.11,24.94 653.06,23.82 654.02,22.69 654.97,21.55 655.92,20.40 656.87,19.23 657.83,18.06 658.78,16.87 659.73,15.68 660.69,14.47 661.64,13.25 662.59,12.01 663.55,10.77 664.50,9.51" fill="none" stroke="#00ff00" stroke-width="1.4" clip-path="url(#c2)"/><text x="379.5" y="196.8" font-size="11.8" text-anchor="middle">−0.50</text><text x="427" y="196.8" font-size="11.8" text-anchor="middle">−0.45</text><text x="474.5" y="196.8" font-size="11.8" text-anchor="middle">−0.40</text><text x="522" y="196.8" font-size="11.8" text-anchor="middle">−0.35</text><text x="569.5" y="196.8" font-size="11.8" text-anchor="middle">−0.30</text><text x="617" y="196.8" font-size="11.8" text-anchor="middle">−0.25</text><text x="664.5" y="196.8" font-size="11.8" text-anchor="middle">−0.20</text><text x="371.2" y="171.36" font-size="11.8" text-anchor="end">2</text><text x="371.2" y="136.36" font-size="11.8" text-anchor="end">3</text><text x="371.2" y="101.36" font-size="11.8" text-anchor="end">4</text><text x="371.2" y="66.36" font-size="11.8" text-anchor="end">5</text><text x="371.2" y="31.36" font-size="11.8" text-anchor="end">6</text><text x="522" y="211.8" font-size="11.8" text-anchor="middle" font-style="italic">μ</text><g transform="translate(356,103.6) rotate(-90)"><text x="0" y="0" font-size="12"><tspan font-style="italic">S</tspan><tspan font-size="7.6" dy="-5">2</tspan><tspan font-size="8.4" dx="-3.8" dy="8.2">Breg</tspan></text></g><line x1="392" y1="20" x2="427.2" y2="20" stroke="#0000ff" stroke-width="1.4" stroke-dasharray="2.7 2.15"/><text x="433.4" y="25.06" font-size="11.8" text-anchor="start">t=20</text><line x1="392" y1="40.1" x2="427.2" y2="40.1" stroke="#ff0000" stroke-width="1.35" stroke-linecap="round" stroke-dasharray="0.01 3.15"/><text x="433.4" y="45.16" font-size="11.8" text-anchor="start">t=30</text><line x1="392" y1="59.8" x2="427.2" y2="59.8" stroke="#00ff00" stroke-width="1.4"/><text x="433.4" y="64.86" font-size="11.8" text-anchor="start">t=40</text><path d="M32.5 402.7v-3.2M32.5 224.5v3.2M42.13 402.7v-1.8M42.13 224.5v1.8M51.77 402.7v-1.8M51.77 224.5v1.8M61.4 402.7v-1.8M61.4 224.5v1.8M71.03 402.7v-1.8M71.03 224.5v1.8M80.67 402.7v-3.2M80.67 224.5v3.2M90.3 402.7v-1.8M90.3 224.5v1.8M99.93 402.7v-1.8M99.93 224.5v1.8M109.57 402.7v-1.8M109.57 224.5v1.8M119.2 402.7v-1.8M119.2 224.5v1.8M128.83 402.7v-3.2M128.83 224.5v3.2M138.47 402.7v-1.8M138.47 224.5v1.8M148.1 402.7v-1.8M148.1 224.5v1.8M157.73 402.7v-1.8M157.73 224.5v1.8M167.37 402.7v-1.8M167.37 224.5v1.8M177 402.7v-3.2M177 224.5v3.2M186.63 402.7v-1.8M186.63 224.5v1.8M196.27 402.7v-1.8M196.27 224.5v1.8M205.9 402.7v-1.8M205.9 224.5v1.8M215.53 402.7v-1.8M215.53 224.5v1.8M225.17 402.7v-3.2M225.17 224.5v3.2M234.8 402.7v-1.8M234.8 224.5v1.8M244.43 402.7v-1.8M244.43 224.5v1.8M254.07 402.7v-1.8M254.07 224.5v1.8M263.7 402.7v-1.8M263.7 224.5v1.8M273.33 402.7v-3.2M273.33 224.5v3.2M282.97 402.7v-1.8M282.97 224.5v1.8M292.6 402.7v-1.8M292.6 224.5v1.8M302.23 402.7v-1.8M302.23 224.5v1.8M311.87 402.7v-1.8M311.87 224.5v1.8M321.5 402.7v-3.2M321.5 224.5v3.2M32.5 402.7h3.2M321.5 402.7h-3.2M32.5 395.57h1.8M321.5 395.57h-1.8M32.5 388.44h1.8M321.5 388.44h-1.8M32.5 381.32h1.8M321.5 381.32h-1.8M32.5 374.19h1.8M321.5 374.19h-1.8M32.5 367.06h3.2M321.5 367.06h-3.2M32.5 359.93h1.8M321.5 359.93h-1.8M32.5 352.8h1.8M321.5 352.8h-1.8M32.5 345.68h1.8M321.5 345.68h-1.8M32.5 338.55h1.8M321.5 338.55h-1.8M32.5 331.42h3.2M321.5 331.42h-3.2M32.5 324.29h1.8M321.5 324.29h-1.8M32.5 317.16h1.8M321.5 317.16h-1.8M32.5 310.04h1.8M321.5 310.04h-1.8M32.5 302.91h1.8M321.5 302.91h-1.8M32.5 295.78h3.2M321.5 295.78h-3.2M32.5 288.65h1.8M321.5 288.65h-1.8M32.5 281.52h1.8M321.5 281.52h-1.8M32.5 274.4h1.8M321.5 274.4h-1.8M32.5 267.27h1.8M321.5 267.27h-1.8M32.5 260.14h3.2M321.5 260.14h-3.2M32.5 253.01h1.8M321.5 253.01h-1.8M32.5 245.88h1.8M321.5 245.88h-1.8M32.5 238.76h1.8M321.5 238.76h-1.8M32.5 231.63h1.8M321.5 231.63h-1.8M32.5 224.5h3.2M321.5 224.5h-3.2" stroke="#999999" stroke-width="1" fill="none"/><rect x="32.5" y="224.5" width="289" height="178.2" fill="none" stroke="#999999" stroke-width="1.0"/><polyline points="80.67,402.56 81.47,402.54 82.28,402.53 83.08,402.52 83.89,402.50 84.69,402.49 85.50,402.47 86.30,402.45 87.11,402.43 87.92,402.41 88.72,402.39 89.53,402.37 90.33,402.35 91.14,402.33 91.94,402.31 92.75,402.28 93.55,402.26 94.36,402.23 95.16,402.20 95.97,402.17 96.78,402.15 97.58,402.12 98.39,402.08 99.19,402.05 100.00,402.02 100.80,401.98 101.61,401.95 102.41,401.91 103.22,401.87 104.03,401.84 104.83,401.80 105.64,401.75 106.44,401.71 107.25,401.67 108.05,401.62 108.86,401.58 109.66,401.53 110.47,401.48 111.27,401.43 112.08,401.38 112.89,401.33 113.69,401.28 114.50,401.22 115.30,401.16 116.11,401.11 116.91,401.05 117.72,400.99 118.52,400.93 119.33,400.86 120.13,400.80 120.94,400.73 121.75,400.67 122.55,400.60 123.36,400.53 124.16,400.46 124.97,400.38 125.77,400.31 126.58,400.23 127.38,400.15 128.19,400.07 128.99,399.99 129.80,399.91 130.61,399.83 131.41,399.74 132.22,399.65 133.02,399.57 133.83,399.48 134.63,399.38 135.44,399.29 136.24,399.20 137.05,399.10 137.85,399.00 138.66,398.90 139.47,398.80 140.27,398.69 141.08,398.59 141.88,398.48 142.69,398.37 143.49,398.26 144.30,398.15 145.10,398.03 145.91,397.92 146.71,397.80 147.52,397.68 148.33,397.56 149.13,397.43 149.94,397.31 150.74,397.18 151.55,397.05 152.35,396.92 153.16,396.79 153.96,396.65 154.77,396.52 155.57,396.38 156.38,396.24 157.19,396.09 157.99,395.95 158.80,395.80 159.60,395.65 160.41,395.50 161.21,395.35 162.02,395.19 162.82,395.04 163.63,394.88 164.43,394.72 165.24,394.55 166.05,394.39 166.85,394.22 167.66,394.05 168.46,393.88 169.27,393.70 170.07,393.53 170.88,393.35 171.68,393.17 172.49,392.99 173.29,392.80 174.10,392.61 174.91,392.42 175.71,392.23 176.52,392.04 177.32,391.84 178.13,391.64 178.93,391.44 179.74,391.24 180.54,391.03 181.35,390.83 182.15,390.62 182.96,390.40 183.77,390.19 184.57,389.97 185.38,389.75 186.18,389.53 186.99,389.31 187.79,389.08 188.60,388.85 189.40,388.62 190.21,388.39 191.02,388.15 191.82,387.91 192.63,387.67 193.43,387.42 194.24,387.18 195.04,386.93 195.85,386.68 196.65,386.42 197.46,386.17 198.26,385.91 199.07,385.65 199.88,385.38 200.68,385.11 201.49,384.84 202.29,384.57 203.10,384.30 203.90,384.02 204.71,383.74 205.51,383.46 206.32,383.17 207.12,382.88 207.93,382.59 208.74,382.30 209.54,382.00 210.35,381.70 211.15,381.40 211.96,381.10 212.76,380.79 213.57,380.48 214.37,380.17 215.18,379.85 215.98,379.53 216.79,379.21 217.60,378.89 218.40,378.56 219.21,378.23 220.01,377.90 220.82,377.57 221.62,377.23 222.43,376.89 223.23,376.54 224.04,376.20 224.84,375.85 225.65,375.49 226.46,375.14 227.26,374.78 228.07,374.42 228.87,374.05 229.68,373.69 230.48,373.31 231.29,372.94 232.09,372.57 232.90,372.19 233.70,371.80 234.51,371.42 235.32,371.03 236.12,370.64 236.93,370.24 237.73,369.85 238.54,369.44 239.34,369.04 240.15,368.63 240.95,368.22 241.76,367.81 242.56,367.39 243.37,366.97 244.18,366.55 244.98,366.13 245.79,365.70 246.59,365.26 247.40,364.83 248.20,364.39 249.01,363.95 249.81,363.50 250.62,363.05 251.42,362.60 252.23,362.15 253.04,361.69 253.84,361.23 254.65,360.76 255.45,360.30 256.26,359.82 257.06,359.35 257.87,358.87 258.67,358.39 259.48,357.91 260.28,357.42 261.09,356.93 261.90,356.43 262.70,355.93 263.51,355.43 264.31,354.93 265.12,354.42 265.92,353.91 266.73,353.39 267.53,352.87 268.34,352.35 269.14,351.82 269.95,351.29 270.76,350.76 271.56,350.23 272.37,349.69 273.17,349.14 273.98,348.60 274.78,348.05 275.59,347.49 276.39,346.93 277.20,346.37 278.01,345.81 278.81,345.24 279.62,344.67 280.42,344.09 281.23,343.52 282.03,342.93 282.84,342.35 283.64,341.76 284.45,341.16 285.25,340.57 286.06,339.97 286.87,339.36 287.67,338.75 288.48,338.14 289.28,337.53 290.09,336.91 290.89,336.28 291.70,335.66 292.50,335.03 293.31,334.39 294.11,333.75 294.92,333.11 295.73,332.47 296.53,331.82 297.34,331.16 298.14,330.51 298.95,329.84 299.75,329.18 300.56,328.51 301.36,327.84 302.17,327.16 302.97,326.48 303.78,325.80 304.59,325.11 305.39,324.42 306.20,323.72 307.00,323.02 307.81,322.32 308.61,321.61 309.42,320.90 310.22,320.18 311.03,319.47 311.83,318.74 312.64,318.01 313.45,317.28 314.25,316.55 315.06,315.81 315.86,315.06 316.67,314.32 317.47,313.57 318.28,312.81 319.08,312.05 319.89,311.29 320.69,310.52 321.50,309.75" fill="none" stroke="#0000ff" stroke-width="1.4" stroke-dasharray="2.7 2.15" clip-path="url(#c3)"/><polyline points="32.50,402.68 33.47,402.68 34.43,402.67 35.40,402.67 36.37,402.66 37.33,402.65 38.30,402.64 39.27,402.63 40.23,402.62 41.20,402.61 42.17,402.60 43.13,402.59 44.10,402.58 45.07,402.56 46.03,402.55 47.00,402.53 47.96,402.51 48.93,402.49 49.90,402.47 50.86,402.45 51.83,402.43 52.80,402.40 53.76,402.38 54.73,402.35 55.70,402.32 56.66,402.29 57.63,402.26 58.60,402.23 59.56,402.19 60.53,402.16 61.50,402.12 62.46,402.08 63.43,402.04 64.40,402.00 65.36,401.96 66.33,401.91 67.30,401.86 68.26,401.81 69.23,401.76 70.20,401.71 71.16,401.66 72.13,401.60 73.10,401.54 74.06,401.48 75.03,401.42 75.99,401.35 76.96,401.29 77.93,401.22 78.89,401.15 79.86,401.08 80.83,401.00 81.79,400.92 82.76,400.85 83.73,400.76 84.69,400.68 85.66,400.60 86.63,400.51 87.59,400.42 88.56,400.32 89.53,400.23 90.49,400.13 91.46,400.03 92.43,399.93 93.39,399.83 94.36,399.72 95.33,399.61 96.29,399.50 97.26,399.38 98.23,399.26 99.19,399.14 100.16,399.02 101.13,398.89 102.09,398.77 103.06,398.64 104.03,398.50 104.99,398.36 105.96,398.23 106.92,398.08 107.89,397.94 108.86,397.79 109.82,397.64 110.79,397.49 111.76,397.33 112.72,397.17 113.69,397.01 114.66,396.84 115.62,396.67 116.59,396.50 117.56,396.33 118.52,396.15 119.49,395.97 120.46,395.78 121.42,395.59 122.39,395.40 123.36,395.21 124.32,395.01 125.29,394.81 126.26,394.61 127.22,394.40 128.19,394.19 129.16,393.98 130.12,393.76 131.09,393.54 132.06,393.31 133.02,393.09 133.99,392.85 134.95,392.62 135.92,392.38 136.89,392.14 137.85,391.89 138.82,391.64 139.79,391.39 140.75,391.13 141.72,390.87 142.69,390.61 143.65,390.34 144.62,390.07 145.59,389.80 146.55,389.52 147.52,389.23 148.49,388.95 149.45,388.66 150.42,388.36 151.39,388.06 152.35,387.76 153.32,387.46 154.29,387.15 155.25,386.83 156.22,386.51 157.19,386.19 158.15,385.86 159.12,385.53 160.09,385.20 161.05,384.86 162.02,384.52 162.98,384.17 163.95,383.82 164.92,383.46 165.88,383.10 166.85,382.74 167.82,382.37 168.78,382.00 169.75,381.62 170.72,381.24 171.68,380.85 172.65,380.46 173.62,380.07 174.58,379.67 175.55,379.26 176.52,378.86 177.48,378.44 178.45,378.03 179.42,377.60 180.38,377.18 181.35,376.75 182.32,376.31 183.28,375.87 184.25,375.43 185.22,374.98 186.18,374.52 187.15,374.06 188.12,373.60 189.08,373.13 190.05,372.66 191.02,372.18 191.98,371.69 192.95,371.21 193.91,370.71 194.88,370.22 195.85,369.71 196.81,369.21 197.78,368.69 198.75,368.18 199.71,367.65 200.68,367.13 201.65,366.59 202.61,366.06 203.58,365.51 204.55,364.96 205.51,364.41 206.48,363.85 207.45,363.29 208.41,362.72 209.38,362.15 210.35,361.57 211.31,360.98 212.28,360.39 213.25,359.80 214.21,359.20 215.18,358.59 216.15,357.98 217.11,357.36 218.08,356.74 219.05,356.12 220.01,355.48 220.98,354.84 221.94,354.20 222.91,353.55 223.88,352.90 224.84,352.24 225.81,351.57 226.78,350.90 227.74,350.22 228.71,349.54 229.68,348.85 230.64,348.16 231.61,347.46 232.58,346.75 233.54,346.04 234.51,345.32 235.48,344.60 236.44,343.87 237.41,343.14 238.38,342.40 239.34,341.65 240.31,340.90 241.28,340.14 242.24,339.38 243.21,338.61 244.18,337.83 245.14,337.05 246.11,336.26 247.08,335.47 248.04,334.67 249.01,333.87 249.97,333.05 250.94,332.24 251.91,331.41 252.87,330.58 253.84,329.75 254.81,328.90 255.77,328.05 256.74,327.20 257.71,326.34 258.67,325.47 259.64,324.60 260.61,323.72 261.57,322.83 262.54,321.94 263.51,321.04 264.47,320.13 265.44,319.22 266.41,318.30 267.37,317.38 268.34,316.45 269.31,315.51 270.27,314.57 271.24,313.62 272.21,312.66 273.17,311.70 274.14,310.73 275.11,309.75 276.07,308.77 277.04,307.78 278.01,306.78 278.97,305.78 279.94,304.77 280.90,303.75 281.87,302.73 282.84,301.69 283.80,300.66 284.77,299.61 285.74,298.56 286.70,297.51 287.67,296.44 288.64,295.37 289.60,294.29 290.57,293.21 291.54,292.12 292.50,291.02 293.47,289.91 294.44,288.80 295.40,287.68 296.37,286.55 297.34,285.42 298.30,284.28 299.27,283.13 300.24,281.98 301.20,280.81 302.17,279.64 303.14,278.47 304.10,277.28 305.07,276.09 306.04,274.90 307.00,273.69 307.97,272.48 308.93,271.26 309.90,270.03 310.87,268.80 311.83,267.56 312.80,266.31 313.77,265.05 314.73,263.79 315.70,262.52 316.67,261.24 317.63,259.95 318.60,258.66 319.57,257.36 320.53,256.05 321.50,254.73" fill="none" stroke="#ff0000" stroke-width="1.35" stroke-linecap="round" stroke-dasharray="0.01 3.15" clip-path="url(#c3)"/><polyline points="32.50,402.54 33.47,402.52 34.43,402.50 35.40,402.48 36.37,402.46 37.33,402.44 38.30,402.42 39.27,402.39 40.23,402.37 41.20,402.34 42.17,402.31 43.13,402.28 44.10,402.24 45.07,402.21 46.03,402.17 47.00,402.14 47.96,402.10 48.93,402.06 49.90,402.01 50.86,401.97 51.83,401.92 52.80,401.88 53.76,401.83 54.73,401.77 55.70,401.72 56.66,401.67 57.63,401.61 58.60,401.55 59.56,401.49 60.53,401.42 61.50,401.36 62.46,401.29 63.43,401.22 64.40,401.15 65.36,401.07 66.33,400.99 67.30,400.91 68.26,400.83 69.23,400.75 70.20,400.66 71.16,400.57 72.13,400.48 73.10,400.39 74.06,400.29 75.03,400.19 75.99,400.09 76.96,399.99 77.93,399.88 78.89,399.77 79.86,399.66 80.83,399.54 81.79,399.42 82.76,399.30 83.73,399.18 84.69,399.05 85.66,398.92 86.63,398.79 87.59,398.66 88.56,398.52 89.53,398.38 90.49,398.23 91.46,398.09 92.43,397.94 93.39,397.78 94.36,397.63 95.33,397.47 96.29,397.30 97.26,397.14 98.23,396.97 99.19,396.80 100.16,396.62 101.13,396.44 102.09,396.26 103.06,396.07 104.03,395.88 104.99,395.69 105.96,395.49 106.92,395.29 107.89,395.09 108.86,394.88 109.82,394.67 110.79,394.45 111.76,394.24 112.72,394.01 113.69,393.79 114.66,393.56 115.62,393.33 116.59,393.09 117.56,392.85 118.52,392.60 119.49,392.35 120.46,392.10 121.42,391.84 122.39,391.58 123.36,391.32 124.32,391.05 125.29,390.78 126.26,390.50 127.22,390.22 128.19,389.94 129.16,389.65 130.12,389.35 131.09,389.06 132.06,388.76 133.02,388.45 133.99,388.14 134.95,387.82 135.92,387.51 136.89,387.18 137.85,386.85 138.82,386.52 139.79,386.18 140.75,385.84 141.72,385.50 142.69,385.15 143.65,384.79 144.62,384.43 145.59,384.07 146.55,383.70 147.52,383.33 148.49,382.95 149.45,382.57 150.42,382.18 151.39,381.79 152.35,381.39 153.32,380.99 154.29,380.58 155.25,380.17 156.22,379.75 157.19,379.33 158.15,378.90 159.12,378.47 160.09,378.04 161.05,377.59 162.02,377.15 162.98,376.70 163.95,376.24 164.92,375.78 165.88,375.31 166.85,374.84 167.82,374.36 168.78,373.88 169.75,373.39 170.72,372.89 171.68,372.39 172.65,371.89 173.62,371.38 174.58,370.87 175.55,370.34 176.52,369.82 177.48,369.29 178.45,368.75 179.42,368.21 180.38,367.66 181.35,367.11 182.32,366.55 183.28,365.98 184.25,365.41 185.22,364.83 186.18,364.25 187.15,363.66 188.12,363.07 189.08,362.47 190.05,361.87 191.02,361.25 191.98,360.64 192.95,360.01 193.91,359.39 194.88,358.75 195.85,358.11 196.81,357.46 197.78,356.81 198.75,356.15 199.71,355.49 200.68,354.82 201.65,354.14 202.61,353.46 203.58,352.77 204.55,352.07 205.51,351.37 206.48,350.66 207.45,349.95 208.41,349.23 209.38,348.50 210.35,347.76 211.31,347.02 212.28,346.28 213.25,345.53 214.21,344.77 215.18,344.00 216.15,343.23 217.11,342.45 218.08,341.67 219.05,340.87 220.01,340.08 220.98,339.27 221.94,338.46 222.91,337.64 223.88,336.82 224.84,335.98 225.81,335.15 226.78,334.30 227.74,333.45 228.71,332.59 229.68,331.72 230.64,330.85 231.61,329.97 232.58,329.08 233.54,328.19 234.51,327.29 235.48,326.38 236.44,325.47 237.41,324.55 238.38,323.62 239.34,322.68 240.31,321.74 241.28,320.79 242.24,319.83 243.21,318.87 244.18,317.90 245.14,316.92 246.11,315.93 247.08,314.94 248.04,313.94 249.01,312.93 249.97,311.92 250.94,310.90 251.91,309.87 252.87,308.83 253.84,307.78 254.81,306.73 255.77,305.67 256.74,304.60 257.71,303.53 258.67,302.45 259.64,301.36 260.61,300.26 261.57,299.15 262.54,298.04 263.51,296.92 264.47,295.79 265.44,294.65 266.41,293.51 267.37,292.36 268.34,291.20 269.31,290.03 270.27,288.86 271.24,287.67 272.21,286.48 273.17,285.28 274.14,284.08 275.11,282.86 276.07,281.64 277.04,280.41 278.01,279.17 278.97,277.92 279.94,276.66 280.90,275.40 281.87,274.13 282.84,272.85 283.80,271.56 284.77,270.27 285.74,268.96 286.70,267.65 287.67,266.33 288.64,265.00 289.60,263.66 290.57,262.31 291.54,260.96 292.50,259.60 293.47,258.23 294.44,256.85 295.40,255.46 296.37,254.06 297.34,252.66 298.30,251.24 299.27,249.82 300.24,248.39 301.20,246.95 302.17,245.50 303.14,244.04 304.10,242.58 305.07,241.10 306.04,239.62 307.00,238.13 307.97,236.63 308.93,235.12 309.90,233.60 310.87,232.07 311.83,230.54 312.80,228.99 313.77,227.44 314.73,225.88 315.70,224.31 316.67,222.73 317.63,221.14 318.60,219.54 319.57,217.93 320.53,216.31 321.50,214.69" fill="none" stroke="#00ff00" stroke-width="1.4" clip-path="url(#c3)"/><text x="32.5" y="416" font-size="11.3" text-anchor="middle">0.04</text><text x="80.67" y="416" font-size="11.3" text-anchor="middle">0.05</text><text x="128.83" y="416" font-size="11.3" text-anchor="middle">0.06</text><text x="177" y="416" font-size="11.3" text-anchor="middle">0.07</text><text x="225.17" y="416" font-size="11.3" text-anchor="middle">0.08</text><text x="273.33" y="416" font-size="11.3" text-anchor="middle">0.09</text><text x="321.5" y="416" font-size="11.3" text-anchor="middle">0.10</text><text x="29.6" y="406.4" font-size="11.3" text-anchor="end">0</text><text x="29.6" y="370.76" font-size="11.3" text-anchor="end">10</text><text x="29.6" y="335.12" font-size="11.3" text-anchor="end">20</text><text x="29.6" y="299.48" font-size="11.3" text-anchor="end">30</text><text x="29.6" y="263.84" font-size="11.3" text-anchor="end">40</text><text x="29.6" y="228.2" font-size="11.3" text-anchor="end">50</text><text x="177" y="431.8" font-size="11.8" text-anchor="middle" font-style="italic">T</text><g transform="translate(10.2,325.4) rotate(-90)"><text x="0" y="0" font-size="12"><tspan font-style="italic">S</tspan><tspan font-size="7.6" dy="-5">2</tspan><tspan font-size="8.4" dx="-3.8" dy="8.2">Breg</tspan></text></g><line x1="46.7" y1="245.2" x2="82.7" y2="245.2" stroke="#0000ff" stroke-width="1.4" stroke-dasharray="2.7 2.15"/><text x="89.3" y="250.2" font-size="11.3" text-anchor="start">t=20</text><line x1="46.7" y1="265" x2="82.7" y2="265" stroke="#ff0000" stroke-width="1.35" stroke-linecap="round" stroke-dasharray="0.01 3.15"/><text x="89.3" y="270" font-size="11.3" text-anchor="start">t=30</text><line x1="46.7" y1="284.6" x2="82.7" y2="284.6" stroke="#00ff00" stroke-width="1.4"/><text x="89.3" y="289.6" font-size="11.3" text-anchor="start">t=40</text><path d="M403.9 401.2v-3.2M412.82 401.2v-1.8M421.75 401.2v-1.8M430.67 401.2v-1.8M439.59 401.2v-1.8M448.51 401.2v-3.2M457.44 401.2v-1.8M466.36 401.2v-1.8M475.28 401.2v-1.8M484.21 401.2v-1.8M493.13 401.2v-3.2M502.05 401.2v-1.8M510.98 401.2v-1.8M519.9 401.2v-1.8M528.82 401.2v-1.8M537.75 401.2v-3.2M546.67 401.2v-1.8M555.59 401.2v-1.8M564.51 401.2v-1.8M573.44 401.2v-1.8M582.36 401.2v-3.2M591.28 401.2v-1.8M600.21 401.2v-1.8M609.13 401.2v-1.8M618.05 401.2v-1.8M626.97 401.2v-3.2M635.9 401.2v-1.8M644.82 401.2v-1.8M653.74 401.2v-1.8M662.67 401.2v-1.8M671.59 401.2v-3.2M403.9 228.6v3.2M421.75 228.6v1.8M439.59 228.6v1.8M457.44 228.6v1.8M475.28 228.6v1.8M493.13 228.6v3.2M510.98 228.6v1.8M528.82 228.6v1.8M546.67 228.6v1.8M564.51 228.6v1.8M582.36 228.6v3.2M600.21 228.6v1.8M618.05 228.6v1.8M635.9 228.6v1.8M653.74 228.6v1.8M671.59 228.6v3.2M398.5 399.3h3.2M677.5 399.3h-3.2M398.5 391.76h1.8M677.5 391.76h-1.8M398.5 384.23h1.8M677.5 384.23h-1.8M398.5 376.69h1.8M677.5 376.69h-1.8M398.5 369.16h3.2M677.5 369.16h-3.2M398.5 361.62h1.8M677.5 361.62h-1.8M398.5 354.09h1.8M677.5 354.09h-1.8M398.5 346.56h1.8M677.5 346.56h-1.8M398.5 339.02h3.2M677.5 339.02h-3.2M398.5 331.49h1.8M677.5 331.49h-1.8M398.5 323.95h1.8M677.5 323.95h-1.8M398.5 316.42h1.8M677.5 316.42h-1.8M398.5 308.88h3.2M677.5 308.88h-3.2M398.5 301.35h1.8M677.5 301.35h-1.8M398.5 293.81h1.8M677.5 293.81h-1.8M398.5 286.27h1.8M677.5 286.27h-1.8M398.5 278.74h3.2M677.5 278.74h-3.2M398.5 271.21h1.8M677.5 271.21h-1.8M398.5 263.67h1.8M677.5 263.67h-1.8M398.5 256.13h1.8M677.5 256.13h-1.8M398.5 248.6h3.2M677.5 248.6h-3.2M398.5 241.06h1.8M677.5 241.06h-1.8M398.5 233.53h1.8M677.5 233.53h-1.8" stroke="#999999" stroke-width="1" fill="none"/><line x1="398.5" y1="399.3" x2="677.5" y2="399.3" stroke="#c8c8c8" stroke-width="1"/><rect x="398.5" y="228.6" width="279" height="172.6" fill="none" stroke="#999999" stroke-width="1.0"/><polyline points="403.90,392.77 404.80,392.72 405.69,392.67 406.59,392.62 407.48,392.57 408.38,392.52 409.27,392.47 410.17,392.41 411.06,392.36 411.96,392.31 412.85,392.26 413.75,392.20 414.64,392.15 415.54,392.10 416.43,392.04 417.33,391.99 418.22,391.93 419.12,391.87 420.02,391.82 420.91,391.76 421.81,391.70 422.70,391.65 423.60,391.59 424.49,391.53 425.39,391.47 426.28,391.41 427.18,391.35 428.07,391.29 428.97,391.23 429.86,391.16 430.76,391.10 431.65,391.04 432.55,390.97 433.44,390.91 434.34,390.84 435.23,390.78 436.13,390.71 437.03,390.65 437.92,390.58 438.82,390.51 439.71,390.44 440.61,390.37 441.50,390.30 442.40,390.23 443.29,390.16 444.19,390.09 445.08,390.02 445.98,389.95 446.87,389.87 447.77,389.80 448.66,389.72 449.56,389.65 450.45,389.57 451.35,389.50 452.25,389.42 453.14,389.34 454.04,389.26 454.93,389.18 455.83,389.10 456.72,389.02 457.62,388.94 458.51,388.85 459.41,388.77 460.30,388.69 461.20,388.60 462.09,388.51 462.99,388.43 463.88,388.34 464.78,388.25 465.67,388.16 466.57,388.07 467.47,387.98 468.36,387.89 469.26,387.80 470.15,387.70 471.05,387.61 471.94,387.51 472.84,387.42 473.73,387.32 474.63,387.22 475.52,387.12 476.42,387.02 477.31,386.92 478.21,386.82 479.10,386.71 480.00,386.61 480.89,386.50 481.79,386.40 482.69,386.29 483.58,386.18 484.48,386.07 485.37,385.96 486.27,385.85 487.16,385.74 488.06,385.62 488.95,385.51 489.85,385.39 490.74,385.27 491.64,385.16 492.53,385.04 493.43,384.91 494.32,384.79 495.22,384.67 496.11,384.54 497.01,384.42 497.90,384.29 498.80,384.16 499.70,384.03 500.59,383.90 501.49,383.76 502.38,383.63 503.28,383.49 504.17,383.36 505.07,383.22 505.96,383.08 506.86,382.94 507.75,382.79 508.65,382.65 509.54,382.50 510.44,382.35 511.33,382.20 512.23,382.05 513.12,381.90 514.02,381.75 514.92,381.59 515.81,381.43 516.71,381.27 517.60,381.11 518.50,380.95 519.39,380.78 520.29,380.61 521.18,380.45 522.08,380.28 522.97,380.10 523.87,379.93 524.76,379.75 525.66,379.57 526.55,379.39 527.45,379.21 528.34,379.03 529.24,378.84 530.14,378.65 531.03,378.46 531.93,378.27 532.82,378.07 533.72,377.87 534.61,377.67 535.51,377.47 536.40,377.27 537.30,377.06 538.19,376.85 539.09,376.64 539.98,376.42 540.88,376.21 541.77,375.99 542.67,375.76 543.56,375.54 544.46,375.31 545.35,375.08 546.25,374.85 547.15,374.61 548.04,374.37 548.94,374.13 549.83,373.89 550.73,373.64 551.62,373.39 552.52,373.14 553.41,372.88 554.31,372.62 555.20,372.36 556.10,372.09 556.99,371.82 557.89,371.55 558.78,371.27 559.68,370.99 560.57,370.70 561.47,370.42 562.37,370.13 563.26,369.83 564.16,369.53 565.05,369.23 565.95,368.92 566.84,368.61 567.74,368.30 568.63,367.98 569.53,367.66 570.42,367.33 571.32,367.00 572.21,366.66 573.11,366.32 574.00,365.98 574.90,365.63 575.79,365.28 576.69,364.92 577.59,364.56 578.48,364.19 579.38,363.81 580.27,363.44 581.17,363.05 582.06,362.66 582.96,362.27 583.85,361.87 584.75,361.46 585.64,361.05 586.54,360.64 587.43,360.22 588.33,359.79 589.22,359.35 590.12,358.91 591.01,358.47 591.91,358.01 592.80,357.55 593.70,357.09 594.60,356.62 595.49,356.14 596.39,355.65 597.28,355.16 598.18,354.66 599.07,354.15 599.97,353.63 600.86,353.11 601.76,352.58 602.65,352.04 603.55,351.50 604.44,350.94 605.34,350.38 606.23,349.81 607.13,349.23 608.02,348.64 608.92,348.04 609.82,347.43 610.71,346.82 611.61,346.19 612.50,345.56 613.40,344.91 614.29,344.25 615.19,343.59 616.08,342.91 616.98,342.23 617.87,341.53 618.77,340.82 619.66,340.10 620.56,339.37 621.45,338.63 622.35,337.87 623.24,337.10 624.14,336.32 625.04,335.53 625.93,334.73 626.83,333.91 627.72,333.07 628.62,332.23 629.51,331.37 630.41,330.49 631.30,329.60 632.20,328.70 633.09,327.78 633.99,326.85 634.88,325.90 635.78,324.93 636.67,323.94 637.57,322.94 638.46,321.92 639.36,320.89 640.26,319.83 641.15,318.76 642.05,317.67 642.94,316.56 643.84,315.43 644.73,314.28 645.63,313.10 646.52,311.91 647.42,310.70 648.31,309.46 649.21,308.20 650.10,306.92 651.00,305.61 651.89,304.28 652.79,302.93 653.68,301.55 654.58,300.14 655.47,298.71 656.37,297.25 657.27,295.76 658.16,294.24 659.06,292.70 659.95,291.12 660.85,289.52 661.74,287.88 662.64,286.21 663.53,284.51 664.43,282.77 665.32,281.00 666.22,279.19 667.11,277.35 668.01,275.47 668.90,273.56 669.80,271.60 670.69,269.60 671.59,267.56" fill="none" stroke="#0000ff" stroke-width="1.4" stroke-dasharray="2.7 2.15" clip-path="url(#c4)"/><polyline points="403.90,392.10 404.80,392.04 405.69,391.98 406.59,391.93 407.48,391.87 408.38,391.81 409.27,391.75 410.17,391.69 411.06,391.63 411.96,391.57 412.85,391.51 413.75,391.44 414.64,391.38 415.54,391.32 416.43,391.25 417.33,391.19 418.22,391.13 419.12,391.06 420.02,390.99 420.91,390.93 421.81,390.86 422.70,390.79 423.60,390.73 424.49,390.66 425.39,390.59 426.28,390.52 427.18,390.45 428.07,390.38 428.97,390.31 429.86,390.23 430.76,390.16 431.65,390.09 432.55,390.01 433.44,389.94 434.34,389.86 435.23,389.79 436.13,389.71 437.03,389.63 437.92,389.56 438.82,389.48 439.71,389.40 440.61,389.32 441.50,389.24 442.40,389.15 443.29,389.07 444.19,388.99 445.08,388.91 445.98,388.82 446.87,388.74 447.77,388.65 448.66,388.56 449.56,388.47 450.45,388.39 451.35,388.30 452.25,388.21 453.14,388.12 454.04,388.02 454.93,387.93 455.83,387.84 456.72,387.74 457.62,387.65 458.51,387.55 459.41,387.46 460.30,387.36 461.20,387.26 462.09,387.16 462.99,387.06 463.88,386.96 464.78,386.86 465.67,386.75 466.57,386.65 467.47,386.54 468.36,386.44 469.26,386.33 470.15,386.22 471.05,386.11 471.94,386.00 472.84,385.89 473.73,385.78 474.63,385.66 475.52,385.55 476.42,385.43 477.31,385.31 478.21,385.20 479.10,385.08 480.00,384.96 480.89,384.83 481.79,384.71 482.69,384.59 483.58,384.46 484.48,384.33 485.37,384.21 486.27,384.08 487.16,383.95 488.06,383.81 488.95,383.68 489.85,383.55 490.74,383.41 491.64,383.27 492.53,383.14 493.43,383.00 494.32,382.85 495.22,382.71 496.11,382.57 497.01,382.42 497.90,382.27 498.80,382.12 499.70,381.97 500.59,381.82 501.49,381.67 502.38,381.51 503.28,381.36 504.17,381.20 505.07,381.04 505.96,380.88 506.86,380.71 507.75,380.55 508.65,380.38 509.54,380.21 510.44,380.04 511.33,379.87 512.23,379.69 513.12,379.52 514.02,379.34 514.92,379.16 515.81,378.98 516.71,378.79 517.60,378.61 518.50,378.42 519.39,378.23 520.29,378.04 521.18,377.84 522.08,377.65 522.97,377.45 523.87,377.25 524.76,377.04 525.66,376.84 526.55,376.63 527.45,376.42 528.34,376.21 529.24,375.99 530.14,375.78 531.03,375.56 531.93,375.34 532.82,375.11 533.72,374.88 534.61,374.65 535.51,374.42 536.40,374.19 537.30,373.95 538.19,373.71 539.09,373.46 539.98,373.22 540.88,372.97 541.77,372.72 542.67,372.46 543.56,372.20 544.46,371.94 545.35,371.68 546.25,371.41 547.15,371.14 548.04,370.86 548.94,370.59 549.83,370.31 550.73,370.02 551.62,369.73 552.52,369.44 553.41,369.15 554.31,368.85 555.20,368.55 556.10,368.24 556.99,367.93 557.89,367.62 558.78,367.30 559.68,366.98 560.57,366.65 561.47,366.33 562.37,365.99 563.26,365.65 564.16,365.31 565.05,364.97 565.95,364.61 566.84,364.26 567.74,363.90 568.63,363.53 569.53,363.17 570.42,362.79 571.32,362.41 572.21,362.03 573.11,361.64 574.00,361.25 574.90,360.85 575.79,360.44 576.69,360.03 577.59,359.62 578.48,359.19 579.38,358.77 580.27,358.34 581.17,357.90 582.06,357.45 582.96,357.00 583.85,356.55 584.75,356.08 585.64,355.62 586.54,355.14 587.43,354.66 588.33,354.17 589.22,353.67 590.12,353.17 591.01,352.66 591.91,352.14 592.80,351.62 593.70,351.09 594.60,350.55 595.49,350.00 596.39,349.45 597.28,348.89 598.18,348.32 599.07,347.74 599.97,347.15 600.86,346.55 601.76,345.95 602.65,345.34 603.55,344.71 604.44,344.08 605.34,343.44 606.23,342.79 607.13,342.13 608.02,341.46 608.92,340.78 609.82,340.09 610.71,339.39 611.61,338.67 612.50,337.95 613.40,337.22 614.29,336.47 615.19,335.72 616.08,334.95 616.98,334.17 617.87,333.37 618.77,332.57 619.66,331.75 620.56,330.92 621.45,330.08 622.35,329.22 623.24,328.35 624.14,327.46 625.04,326.56 625.93,325.65 626.83,324.72 627.72,323.77 628.62,322.81 629.51,321.84 630.41,320.85 631.30,319.84 632.20,318.81 633.09,317.77 633.99,316.71 634.88,315.63 635.78,314.54 636.67,313.42 637.57,312.29 638.46,311.13 639.36,309.96 640.26,308.77 641.15,307.55 642.05,306.32 642.94,305.06 643.84,303.78 644.73,302.48 645.63,301.15 646.52,299.80 647.42,298.43 648.31,297.03 649.21,295.61 650.10,294.16 651.00,292.68 651.89,291.18 652.79,289.65 653.68,288.09 654.58,286.50 655.47,284.88 656.37,283.23 657.27,281.56 658.16,279.84 659.06,278.10 659.95,276.32 660.85,274.51 661.74,272.67 662.64,270.78 663.53,268.86 664.43,266.91 665.32,264.91 666.22,262.88 667.11,260.80 668.01,258.69 668.90,256.53 669.80,254.32 670.69,252.08 671.59,249.78" fill="none" stroke="#ff0000" stroke-width="1.35" stroke-linecap="round" stroke-dasharray="0.01 3.15" clip-path="url(#c4)"/><polyline points="403.90,390.88 404.80,390.82 405.69,390.76 406.59,390.70 407.48,390.64 408.38,390.58 409.27,390.51 410.17,390.45 411.06,390.39 411.96,390.32 412.85,390.26 413.75,390.20 414.64,390.13 415.54,390.06 416.43,390.00 417.33,389.93 418.22,389.86 419.12,389.79 420.02,389.72 420.91,389.66 421.81,389.59 422.70,389.51 423.60,389.44 424.49,389.37 425.39,389.30 426.28,389.23 427.18,389.15 428.07,389.08 428.97,389.00 429.86,388.93 430.76,388.85 431.65,388.77 432.55,388.70 433.44,388.62 434.34,388.54 435.23,388.46 436.13,388.38 437.03,388.30 437.92,388.21 438.82,388.13 439.71,388.05 440.61,387.96 441.50,387.88 442.40,387.79 443.29,387.71 444.19,387.62 445.08,387.53 445.98,387.44 446.87,387.35 447.77,387.26 448.66,387.17 449.56,387.08 450.45,386.99 451.35,386.89 452.25,386.80 453.14,386.70 454.04,386.61 454.93,386.51 455.83,386.41 456.72,386.31 457.62,386.21 458.51,386.11 459.41,386.01 460.30,385.91 461.20,385.80 462.09,385.70 462.99,385.59 463.88,385.48 464.78,385.38 465.67,385.27 466.57,385.16 467.47,385.05 468.36,384.93 469.26,384.82 470.15,384.71 471.05,384.59 471.94,384.47 472.84,384.36 473.73,384.24 474.63,384.12 475.52,384.00 476.42,383.87 477.31,383.75 478.21,383.63 479.10,383.50 480.00,383.37 480.89,383.24 481.79,383.11 482.69,382.98 483.58,382.85 484.48,382.72 485.37,382.58 486.27,382.45 487.16,382.31 488.06,382.17 488.95,382.03 489.85,381.89 490.74,381.74 491.64,381.60 492.53,381.45 493.43,381.30 494.32,381.15 495.22,381.00 496.11,380.85 497.01,380.70 497.90,380.54 498.80,380.38 499.70,380.22 500.59,380.06 501.49,379.90 502.38,379.74 503.28,379.57 504.17,379.40 505.07,379.23 505.96,379.06 506.86,378.89 507.75,378.71 508.65,378.54 509.54,378.36 510.44,378.18 511.33,378.00 512.23,377.81 513.12,377.62 514.02,377.44 514.92,377.24 515.81,377.05 516.71,376.86 517.60,376.66 518.50,376.46 519.39,376.26 520.29,376.06 521.18,375.85 522.08,375.64 522.97,375.43 523.87,375.22 524.76,375.00 525.66,374.78 526.55,374.56 527.45,374.34 528.34,374.12 529.24,373.89 530.14,373.66 531.03,373.42 531.93,373.19 532.82,372.95 533.72,372.71 534.61,372.46 535.51,372.22 536.40,371.97 537.30,371.71 538.19,371.46 539.09,371.20 539.98,370.94 540.88,370.67 541.77,370.40 542.67,370.13 543.56,369.86 544.46,369.58 545.35,369.30 546.25,369.01 547.15,368.73 548.04,368.43 548.94,368.14 549.83,367.84 550.73,367.54 551.62,367.23 552.52,366.92 553.41,366.61 554.31,366.29 555.20,365.97 556.10,365.64 556.99,365.31 557.89,364.98 558.78,364.64 559.68,364.30 560.57,363.95 561.47,363.60 562.37,363.24 563.26,362.88 564.16,362.52 565.05,362.15 565.95,361.77 566.84,361.39 567.74,361.01 568.63,360.62 569.53,360.23 570.42,359.83 571.32,359.42 572.21,359.01 573.11,358.60 574.00,358.18 574.90,357.75 575.79,357.32 576.69,356.88 577.59,356.43 578.48,355.98 579.38,355.53 580.27,355.07 581.17,354.60 582.06,354.12 582.96,353.64 583.85,353.15 584.75,352.66 585.64,352.15 586.54,351.65 587.43,351.13 588.33,350.61 589.22,350.08 590.12,349.54 591.01,348.99 591.91,348.44 592.80,347.88 593.70,347.31 594.60,346.73 595.49,346.14 596.39,345.55 597.28,344.94 598.18,344.33 599.07,343.71 599.97,343.08 600.86,342.44 601.76,341.79 602.65,341.13 603.55,340.47 604.44,339.79 605.34,339.10 606.23,338.40 607.13,337.69 608.02,336.97 608.92,336.24 609.82,335.50 610.71,334.74 611.61,333.98 612.50,333.20 613.40,332.41 614.29,331.61 615.19,330.79 616.08,329.97 616.98,329.13 617.87,328.27 618.77,327.41 619.66,326.53 620.56,325.63 621.45,324.72 622.35,323.80 623.24,322.86 624.14,321.91 625.04,320.94 625.93,319.95 626.83,318.95 627.72,317.93 628.62,316.89 629.51,315.84 630.41,314.77 631.30,313.68 632.20,312.58 633.09,311.45 633.99,310.31 634.88,309.14 635.78,307.96 636.67,306.75 637.57,305.53 638.46,304.28 639.36,303.01 640.26,301.72 641.15,300.41 642.05,299.07 642.94,297.71 643.84,296.33 644.73,294.92 645.63,293.48 646.52,292.02 647.42,290.54 648.31,289.02 649.21,287.48 650.10,285.91 651.00,284.31 651.89,282.68 652.79,281.02 653.68,279.33 654.58,277.61 655.47,275.85 656.37,274.07 657.27,272.24 658.16,270.39 659.06,268.49 659.95,266.56 660.85,264.60 661.74,262.59 662.64,260.55 663.53,258.46 664.43,256.33 665.32,254.17 666.22,251.95 667.11,249.70 668.01,247.39 668.90,245.04 669.80,242.65 670.69,240.20 671.59,237.70" fill="none" stroke="#00ff00" stroke-width="1.4" clip-path="url(#c4)"/><text x="403.9" y="415" font-size="12.2" text-anchor="middle">−0.50</text><text x="448.51" y="415" font-size="12.2" text-anchor="middle">−0.45</text><text x="493.13" y="415" font-size="12.2" text-anchor="middle">−0.40</text><text x="537.75" y="415" font-size="12.2" text-anchor="middle">−0.35</text><text x="582.36" y="415" font-size="12.2" text-anchor="middle">−0.30</text><text x="626.97" y="415" font-size="12.2" text-anchor="middle">−0.25</text><text x="671.59" y="415" font-size="12.2" text-anchor="middle">−0.20</text><text x="395.4" y="403.63" font-size="11.4" text-anchor="end">0</text><text x="395.4" y="373.49" font-size="11.4" text-anchor="end">20<tspan dx="2.3">000</tspan></text><text x="395.4" y="343.35" font-size="11.4" text-anchor="end">40<tspan dx="2.3">000</tspan></text><text x="395.4" y="313.21" font-size="11.4" text-anchor="end">60<tspan dx="2.3">000</tspan></text><text x="395.4" y="283.07" font-size="11.4" text-anchor="end">80<tspan dx="2.3">000</tspan></text><text x="395.4" y="252.93" font-size="11.4" text-anchor="end">100<tspan dx="2.3">000</tspan></text><text x="537.7" y="431" font-size="12.2" text-anchor="middle" font-style="italic">μ</text><g transform="translate(349.6,327) rotate(-90)"><text x="0" y="0" font-size="12"><tspan font-style="italic">S</tspan><tspan font-size="7.6" dy="-5">2</tspan><tspan font-size="8.4" dx="-3.8" dy="8.2">Breg</tspan></text></g><line x1="414.3" y1="252" x2="451.1" y2="252" stroke="#0000ff" stroke-width="1.4" stroke-dasharray="2.7 2.15"/><text x="458" y="257.3" font-size="12.2" text-anchor="start">t=20</text><line x1="414.3" y1="272.4" x2="451.1" y2="272.4" stroke="#ff0000" stroke-width="1.35" stroke-linecap="round" stroke-dasharray="0.01 3.15"/><text x="458" y="277.7" font-size="12.2" text-anchor="start">t=30</text><line x1="414.3" y1="293" x2="451.1" y2="293" stroke="#00ff00" stroke-width="1.4"/><text x="458" y="298.3" font-size="12.2" text-anchor="start">t=40</text></svg>
</body></html>
